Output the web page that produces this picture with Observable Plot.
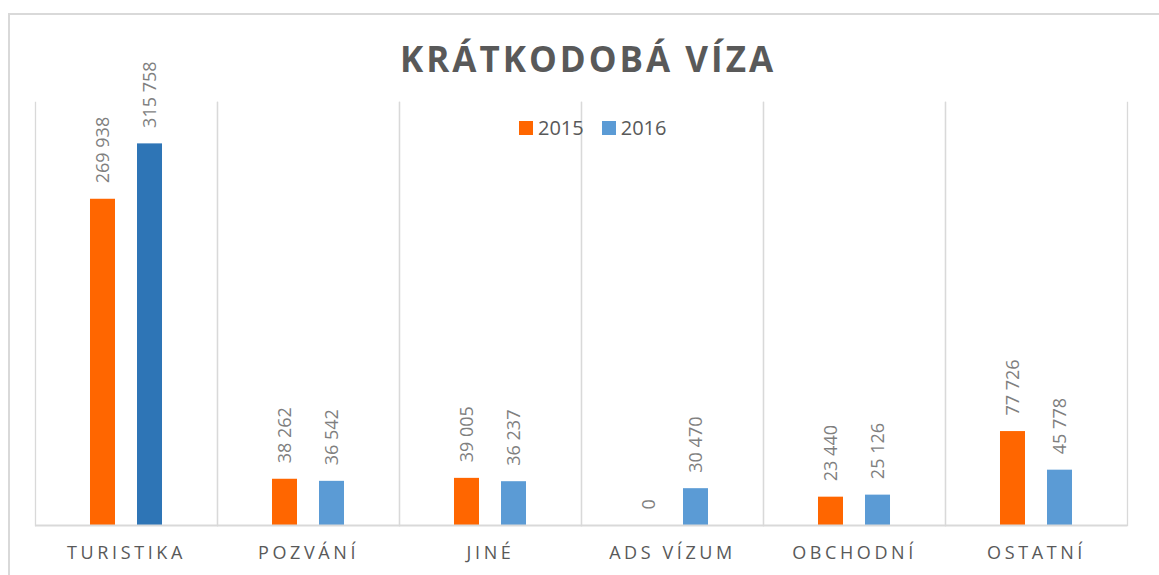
<!DOCTYPE html>
<html>
<head>
<meta charset="utf-8">
<script src="https://cdn.jsdelivr.net/npm/d3@7"></script>
<script src="https://cdn.jsdelivr.net/npm/@observablehq/plot@0.6"></script>
<style>
  html, body { margin: 0; padding: 0; background: #fff; }
  body { width: 1159px; height: 575px; overflow: hidden; position: relative; font-family: "Open Sans", sans-serif; }
  #border { position: absolute; left: 8px; top: 13px; width: 1200px; height: 700px; border: 2px solid #d9d9d9; box-sizing: border-box; }
  #title { position: absolute; left: 0; top: 14px; width: 1176px; height: 90px; line-height: 90px; text-align: center;
           font-size: 35px; font-weight: 700; color: #595959; letter-spacing: 3px; z-index: 2; }
  #legend { position: absolute; top: 114px; left: 519px; font-size: 20px; color: #595959; display: flex; align-items: center; z-index: 2; }
  #legend .sw { display: inline-block; width: 14px; height: 14px; margin-right: 5px; }
  #legend .item { display: flex; align-items: center; margin-right: 18px; }
  #chart { position: absolute; left: 0; top: 0; }
  #chart svg g[aria-label="fx-axis tick label"] text { letter-spacing: 3.6px; }
</style>
</head>
<body>
<div id="border"></div>
<div id="chart"></div>
<div id="title">KRÁTKODOBÁ VÍZA</div>
<div id="legend"></div>
<script>
const categories = ["TURISTIKA", "POZVÁNÍ", "JINÉ", "ADS VÍZUM", "OBCHODNÍ", "OSTATNÍ"];
const years = ["2015", "2016"];
const values2015 = [269938, 38262, 39005, 0, 23440, 77726];
const values2016 = [315758, 36542, 36237, 30470, 25126, 45778];
const colors = { "2015": "#ff6600", "2016": "#5b9bd5" };
const highlightColor = "#2e75b6";

const data = [];
categories.forEach((c, i) => {
  data.push({ cat: c, year: "2015", value: values2015[i] });
  data.push({ cat: c, year: "2016", value: values2016[i] });
});
const fillOf = d => (d.year === "2016" && d.cat === "TURISTIKA") ? highlightColor : colors[d.year];
const fmt = v => d3.format(",")(v).replace(/,/g, " ");

const chart = Plot.plot({
  width: 1159,
  height: 575,
  marginTop: 102,
  marginBottom: 50,
  marginLeft: 35,
  marginRight: 32,
  style: { fontFamily: "'Open Sans', sans-serif", fontSize: "18px", color: "#595959", background: "transparent", overflow: "visible" },
  fx: { domain: categories, padding: 0, axis: "bottom", tickSize: 0, tickPadding: 21, label: null },
  x: { domain: years, paddingInner: 0.468, paddingOuter: 1.17, axis: null, round: false },
  y: { domain: [0, 350000], axis: null },
  color: { type: "identity" },
  marks: [
    Plot.frame({ anchor: "left", stroke: "#d9d9d9", strokeWidth: 1.3 }),
    Plot.frame({ anchor: "right", stroke: "#d9d9d9", strokeWidth: 1.3 }),
    Plot.barY(data, { fx: "cat", x: "year", y: "value", fill: fillOf }),
    Plot.ruleY([0], { stroke: "#d9d9d9", strokeWidth: 2 }),
    Plot.text(data, { fx: "cat", x: "year", y: "value", text: d => fmt(d.value), rotate: -90,
      textAnchor: "start", lineAnchor: "middle", dy: -16, fill: "#7f7f7f", fontSize: 18 })
  ]
});
document.getElementById("chart").appendChild(chart);

const legend = document.getElementById("legend");
years.forEach(y => {
  const item = document.createElement("div");
  item.className = "item";
  item.innerHTML = `<span class="sw" style="background:${colors[y]}"></span><span>${y}</span>`;
  legend.appendChild(item);
});
</script>
</body>
</html>
